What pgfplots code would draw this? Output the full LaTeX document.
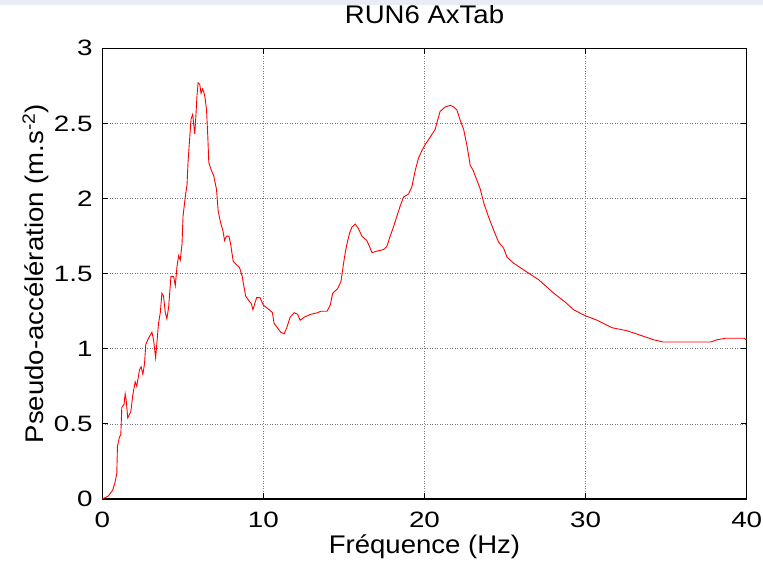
\documentclass[border=0pt]{standalone}
\usepackage{fontspec}
\setmainfont{Liberation Sans}
\newfontfamily\tickfont[FakeStretch=1.25]{Liberation Sans}
\newfontfamily\labfont[FakeStretch=1.08]{Liberation Sans}
\usepackage{pgfplots}
\pgfplotsset{compat=1.18}
\definecolor{band}{RGB}{232,236,244}
\definecolor{gridc}{RGB}{120,120,120}
\pgfplotstableread{
x y
0 0
0.37 0.02
0.65 0.06
0.79 0.11
0.90 0.17
0.94 0.35
1.06 0.41
1.15 0.43
1.21 0.61
1.35 0.63
1.42 0.70
1.48 0.66
1.58 0.54
1.77 0.58
1.89 0.69
2.04 0.78
2.14 0.75
2.31 0.86
2.41 0.88
2.52 0.83
2.62 0.90
2.70 1.03
2.87 1.07
3.08 1.11
3.18 1.06
3.31 0.94
3.39 1.04
3.49 1.17
3.60 1.24
3.70 1.37
3.80 1.35
3.91 1.24
4.01 1.20
4.12 1.28
4.26 1.48
4.43 1.48
4.53 1.42
4.64 1.55
4.74 1.62
4.84 1.59
4.95 1.70
5.01 1.88
5.16 2.02
5.26 2.09
5.32 2.24
5.43 2.41
5.51 2.53
5.61 2.56
5.67 2.50
5.74 2.43
5.82 2.57
5.88 2.69
5.95 2.77
6.05 2.76
6.13 2.70
6.22 2.73
6.30 2.71
6.38 2.67
6.47 2.59
6.55 2.41
6.61 2.24
6.76 2.19
6.92 2.15
7.09 2.06
7.19 1.92
7.34 1.84
7.48 1.79
7.59 1.72
7.71 1.75
7.86 1.75
7.96 1.70
8.13 1.58
8.32 1.56
8.52 1.54
8.69 1.48
8.75 1.44
8.90 1.35
9.10 1.32
9.25 1.30
9.35 1.26
9.46 1.30
9.58 1.34
9.79 1.34
10.0 1.29
10.25 1.27
10.46 1.25
10.56 1.24
10.66 1.17
10.87 1.14
11.08 1.11
11.29 1.10
11.45 1.14
11.66 1.21
11.91 1.24
12.12 1.23
12.28 1.19
12.53 1.21
12.95 1.23
13.37 1.24
13.57 1.25
13.95 1.25
14.15 1.29
14.30 1.37
14.61 1.40
14.82 1.45
14.95 1.55
15.08 1.64
15.19 1.70
15.35 1.77
15.50 1.81
15.70 1.83
15.90 1.80
16.11 1.75
16.42 1.72
16.59 1.68
16.74 1.64
17.05 1.65
17.45 1.66
17.66 1.68
17.87 1.75
18.07 1.81
18.28 1.88
18.49 1.95
18.70 2.01
19.01 2.03
19.22 2.08
19.43 2.19
19.63 2.27
19.84 2.32
20.05 2.36
20.36 2.41
20.66 2.46
20.81 2.52
20.97 2.58
21.29 2.61
21.60 2.62
21.80 2.61
22.01 2.59
22.22 2.52
22.43 2.46
22.64 2.35
22.84 2.22
23.01 2.19
23.26 2.12
23.47 2.06
23.68 1.97
23.97 1.88
24.29 1.79
24.60 1.71
24.91 1.67
25.12 1.61
25.53 1.57
25.95 1.54
26.37 1.51
27.08 1.46
28.02 1.37
28.74 1.31
29.25 1.26
29.98 1.22
30.71 1.19
31.64 1.14
32.57 1.12
33.40 1.09
34.22 1.06
34.80 1.045
37.75 1.045
38.17 1.06
38.68 1.07
39.82 1.07
40 1.06
}\spectrum
\begin{document}
\begin{tikzpicture}
\begin{axis}[
  at={(0,0)}, anchor=south west,
  scale only axis, width=644.4bp, height=450.7bp,
  xmin=0, xmax=40, ymin=0, ymax=3,
  xtick={0,10,20,30,40}, xticklabels={0,10,20,30,40},
  ytick={0,0.5,1,1.5,2,2.5,3}, yticklabels={0,0.5,1,1.5,2,2.5,3},
  tick align=inside, major tick length=6bp,
  tick style={black, line width=0.8bp},
  grid=major,
  grid style={gridc, line width=0.7bp, dash pattern=on 1bp off 1.5bp},
  axis line style={black, line width=1.1bp},
  ticklabel style={font=\fontsize{22.3}{26}\selectfont\tickfont, inner sep=0pt},
  xticklabel style={yshift=-12.7bp},
  yticklabel style={xshift=-9.5bp},
  title={RUN6 AxTab},
  title style={font=\fontsize{25.6}{30}\selectfont\labfont, inner sep=0pt,
    at={(axis description cs:0.5,1.0422)}, anchor=base},
  xlabel={Fréquence (Hz)},
  xlabel style={font=\fontsize{25.6}{30}\selectfont\labfont, inner sep=0pt,
    at={(axis description cs:0.5,-0.1205)}, anchor=base},
  ylabel={Pseudo-accélération (m.s\textsuperscript{-2})},
  ylabel style={font=\fontsize{25.6}{30}\selectfont\labfont, inner sep=0pt,
    at={(axis description cs:-0.0905,0.5)}, anchor=base, rotate=0},
]
\addplot[red, line width=0.9bp, no markers] table[x=x, y=y] {\spectrum};
\end{axis}
\fill[band] (-102.3bp,494.3bp) rectangle (660.7bp,499bp);
\pgfresetboundingbox
\useasboundingbox (-102.3bp,-63bp) rectangle (660.7bp,499bp);
\end{tikzpicture}
\end{document}
